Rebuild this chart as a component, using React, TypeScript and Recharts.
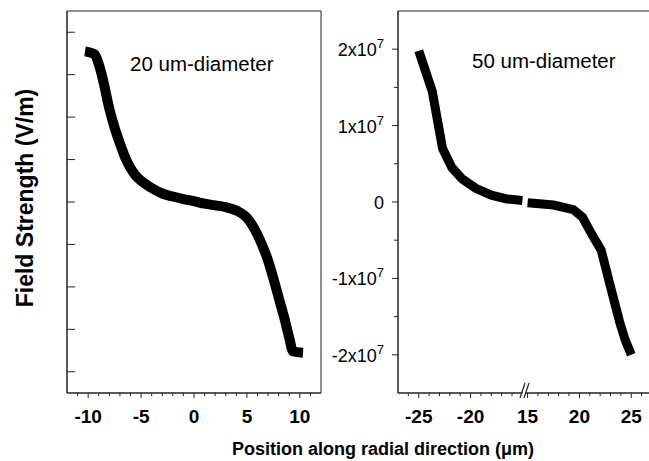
import React from 'react';
import { LineChart, Line, XAxis, YAxis, ReferenceArea, ReferenceDot } from 'recharts';

const FONT = '"Liberation Sans", Arial, Helvetica, sans-serif';
const AXIS = '#222';

// 20 um-diameter panel (y axis has no numbers in the original)
const smallPos = [-10.3, -9.4, -9.0, -8.6, -8.0, -7.5, -7.0, -6.5, -6.0, -5.5, -5.0, -4.0, -3.0, -2.0, -1.0, 0, 1, 2, 3, 4, 5, 5.75, 6.5, 7, 7.5, 8, 8.5, 9, 9.35, 10.3];
const smallField = [3.55, 3.48, 3.25, 2.88, 2.2, 1.75, 1.38, 1.05, 0.8, 0.62, 0.5, 0.33, 0.2, 0.13, 0.07, 0.02, -0.04, -0.08, -0.12, -0.2, -0.37, -0.65, -1.05, -1.38, -1.8, -2.25, -2.7, -3.2, -3.52, -3.55];
const smallTicksX = [-11, -10, -9, -8, -7, -6, -5, -4, -3, -2, -1, 0, 1, 2, 3, 4, 5, 6, 7, 8, 9, 10, 11];
const smallTicksY = [-4, -3, -2, -1, 0, 1, 2, 3, 4];

// 50 um-diameter panel, broken x axis (-27..-15 // 15..27)
const bigPosNeg = [-25, -23.7, -22.7, -21.8, -20.8, -19.5, -18, -16.5, -15];
const bigFieldNeg = [1.98e7, 1.45e7, 0.7e7, 0.45e7, 0.3e7, 0.18e7, 0.09e7, 0.04e7, 0.02e7];
const bigPosPos = [15, 17.5, 19.4, 20.3, 21.1, 22.1, 23, 23.9, 24.4, 25];
const bigFieldPos = [-0.01e7, -0.04e7, -0.1e7, -0.2e7, -0.4e7, -0.63e7, -1.11e7, -1.58e7, -1.8e7, -2.0e7];
const bigTicksReal = [-26, -25, -24, -23, -22, -21, -20, -19, -18, -17, -16, 15, 16, 17, 18, 19, 20, 21, 22, 23, 24, 25, 26];
const bigTicksY = [-2e7, -1.5e7, -1e7, -0.5e7, 0, 0.5e7, 1e7, 1.5e7, 2e7];

// map the broken axis onto one continuous scale
const toAxis = (x: number) => (x < 0 ? x + 15 : x - 14.5);
const fromAxis = (v: number) => (v <= 0 ? v - 15 : v + 14.5);

const smallData = smallPos.map((x, i) => ({ x, y: smallField[i] }));
const bigNegData = bigPosNeg.map((x, i) => ({ x: toAxis(x), y: bigFieldNeg[i] }));
const bigPosData = bigPosPos.map((x, i) => ({ x: toAxis(x), y: bigFieldPos[i] }));

const xTick = (toReal: (v: number) => number) => (props: any) => {
  const { x, y, payload } = props;
  const real = Math.round(toReal(payload.value));
  const major = real % 5 === 0;
  return (
    <g>
      <line x1={x} x2={x} y1={y} y2={y + (major ? 5 : 3)} stroke={AXIS} />
      {major && (
        <text x={x} y={y + 30} textAnchor="middle" fontFamily={FONT} fontSize={19} fontWeight="bold" fill="#000">
          {real}
        </text>
      )}
    </g>
  );
};

// inward ticks, no numbers
const innerTick = (props: any) => {
  const { x, y } = props;
  return <line x1={x} x2={x + 8} y1={y} y2={y} stroke={AXIS} />;
};

const fieldTick = (props: any) => {
  const { x, y, payload } = props;
  const m = Math.round((payload.value / 1e7) * 2) / 2;
  const major = Number.isInteger(m);
  return (
    <g>
      <line x1={x - (major ? 6 : 4)} x2={x} y1={y} y2={y} stroke={AXIS} />
      {major && (
        <text x={x - 14} y={y + 7} textAnchor="end" fontFamily={FONT} fontSize={18} fill="#000">
          {m === 0 ? '0' : `${m}x10`}
          {m !== 0 && <tspan dy={-8} fontSize={13}>7</tspan>}
        </text>
      )}
    </g>
  );
};

const BreakMark = (props: any) => {
  const { cx, cy } = props;
  return (
    <g>
      <polygon points={`${cx - 4},${cy + 4} ${cx + 1},${cy - 9} ${cx + 4},${cy - 9} ${cx - 1},${cy + 4}`} fill="#fff" />
      <line x1={cx - 5} y1={cy + 5} x2={cx} y2={cy - 10} stroke={AXIS} strokeWidth={1.2} />
      <line x1={cx - 1} y1={cy + 5} x2={cx + 4} y2={cy - 10} stroke={AXIS} strokeWidth={1.2} />
    </g>
  );
};

export default function App() {
  return (
    <div style={{ position: 'absolute', left: 0, top: 0, width: 649, height: 461, overflow: 'hidden', background: '#fff' }}>
      <div style={{ position: 'absolute', left: 0, top: 0 }}>
        <LineChart width={322} height={461} data={smallData} margin={{ top: 11, right: 1, bottom: 38, left: 57 }}>
          <XAxis
            dataKey="x"
            type="number"
            domain={[-12, 12]}
            ticks={smallTicksX}
            interval={0}
            tickLine={false}
            tickSize={0}
            tickMargin={0}
            tick={xTick((v) => v)}
            height={30}
            stroke={AXIS}
          />
          <YAxis
            type="number"
            domain={[-4.5, 4.5]}
            ticks={smallTicksY}
            interval={0}
            width={10}
            tickLine={false}
            tickSize={0}
            tickMargin={0}
            tick={innerTick}
            stroke={AXIS}
          />
          <ReferenceArea x1={-12} x2={12} y1={-4.5} y2={4.5} fill="none" stroke={AXIS} ifOverflow="visible" />
          <Line dataKey="y" type="monotone" stroke="#000" strokeWidth={10} dot={false} isAnimationActive={false} />
        </LineChart>
      </div>
      <div style={{ position: 'absolute', left: 322, top: 0 }}>
        <LineChart width={330} height={461} margin={{ top: 11, right: 0, bottom: 38, left: 0 }}>
          <XAxis
            dataKey="x"
            type="number"
            domain={[-12, 12.5]}
            ticks={bigTicksReal.map(toAxis)}
            interval={0}
            tickLine={false}
            tickSize={0}
            tickMargin={0}
            tick={xTick(fromAxis)}
            height={30}
            stroke={AXIS}
            allowDataOverflow
          />
          <YAxis
            type="number"
            domain={[-2.5e7, 2.5e7]}
            ticks={bigTicksY}
            interval={0}
            width={76}
            tickLine={false}
            tickSize={0}
            tickMargin={0}
            tick={fieldTick}
            stroke={AXIS}
          />
          <ReferenceArea x1={-12} x2={12.5} y1={-2.5e7} y2={2.5e7} fill="none" stroke={AXIS} ifOverflow="visible" />
          <Line data={bigNegData} dataKey="y" type="linear" stroke="#000" strokeWidth={9} dot={false} isAnimationActive={false} />
          <Line data={bigPosData} dataKey="y" type="linear" stroke="#000" strokeWidth={9} dot={false} isAnimationActive={false} />
          <ReferenceDot x={0.25} y={-2.5e7} ifOverflow="visible" shape={BreakMark} />
        </LineChart>
      </div>
      <svg width={649} height={461} style={{ position: 'absolute', left: 0, top: 0, pointerEvents: 'none' }}>
        <text x={130} y={71} fontFamily={FONT} fontSize={20.5} fill="#000">20 um-diameter</text>
        <text x={472} y={68} fontFamily={FONT} fontSize={20.5} fill="#000">50 um-diameter</text>
        <text x={383} y={455} textAnchor="middle" fontFamily={FONT} fontSize={18} fontWeight="bold" fill="#000">
          Position along radial direction (μm)
        </text>
        <text x={33} y={198} transform="rotate(-90 33 198)" textAnchor="middle" fontFamily={FONT} fontSize={23} fontWeight="bold" fill="#000">
          Field Strength (V/m)
        </text>
      </svg>
    </div>
  );
}
